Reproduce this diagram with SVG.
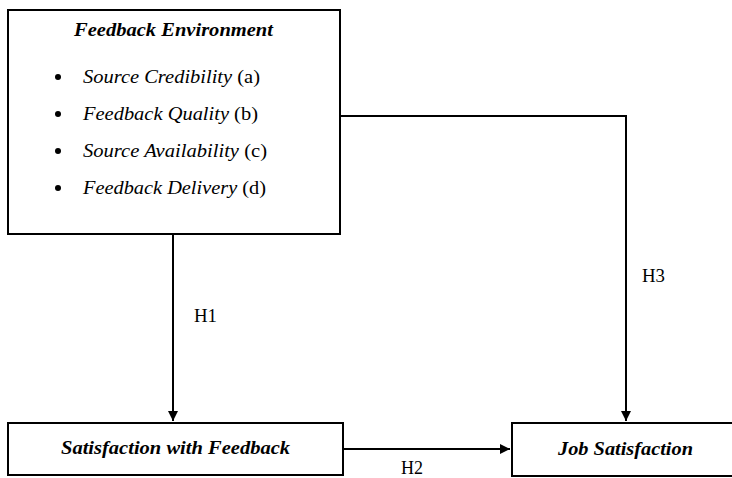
<svg xmlns="http://www.w3.org/2000/svg" width="732" height="478" viewBox="0 0 732 478">
<style>
.box{fill:#fff;stroke:#000;stroke-width:2}
.conn{fill:none;stroke:#000;stroke-width:2}
.t{font-family:"Liberation Serif","Times New Roman",serif;fill:#000}
.bi{font-weight:bold;font-style:italic;font-size:19.5px}
.it{font-size:19.5px}
.lbl{font-size:19px}
</style>
<defs>
<marker id="arr" viewBox="0 0 10 10" refX="10" refY="5" markerWidth="5" markerHeight="5" orient="auto" markerUnits="strokeWidth">
<path d="M0,0 L10,5 L0,10 z" fill="#000"/>
</marker>
</defs>
<rect width="732" height="478" fill="#fff"/>
<g id="connectors">
<path class="conn" d="M173,235 V421" marker-end="url(#arr)"/>
<path class="conn" d="M341,116 H626 V421" marker-end="url(#arr)"/>
<path class="conn" d="M343,449 H510" marker-end="url(#arr)"/>
<text class="t lbl" x="194" y="322" textLength="23" lengthAdjust="spacingAndGlyphs">H1</text>
<text class="t lbl" x="642" y="282" textLength="23" lengthAdjust="spacingAndGlyphs">H3</text>
<text class="t lbl" x="401" y="474" textLength="22" lengthAdjust="spacingAndGlyphs">H2</text>
</g>
<g id="feedback-environment">
<rect class="box" x="8" y="10" width="332" height="224"/>
<text class="t bi" x="74" y="36" textLength="199" lengthAdjust="spacingAndGlyphs">Feedback Environment</text>
<circle cx="58" cy="77" r="3" fill="#000"/>
<circle cx="58" cy="114" r="3" fill="#000"/>
<circle cx="58" cy="151" r="3" fill="#000"/>
<circle cx="58" cy="188" r="3" fill="#000"/>
<text class="t it" x="83" y="83" textLength="177" lengthAdjust="spacingAndGlyphs"><tspan font-style="italic">Source Credibility</tspan> (a)</text>
<text class="t it" x="83" y="120" textLength="175" lengthAdjust="spacingAndGlyphs"><tspan font-style="italic">Feedback Quality</tspan> (b)</text>
<text class="t it" x="83" y="157" textLength="184" lengthAdjust="spacingAndGlyphs"><tspan font-style="italic">Source Availability</tspan> (c)</text>
<text class="t it" x="83" y="194" textLength="183" lengthAdjust="spacingAndGlyphs"><tspan font-style="italic">Feedback Delivery</tspan> (d)</text>
</g>
<g id="satisfaction-with-feedback">
<rect class="box" x="8" y="423" width="335" height="52"/>
<text class="t bi" x="61" y="454" textLength="229" lengthAdjust="spacingAndGlyphs">Satisfaction with Feedback</text>
</g>
<g id="job-satisfaction">
<rect class="box" x="512" y="423" width="232" height="53"/>
<text class="t bi" x="558" y="455" textLength="135" lengthAdjust="spacingAndGlyphs">Job Satisfaction</text>
</g>
</svg>
